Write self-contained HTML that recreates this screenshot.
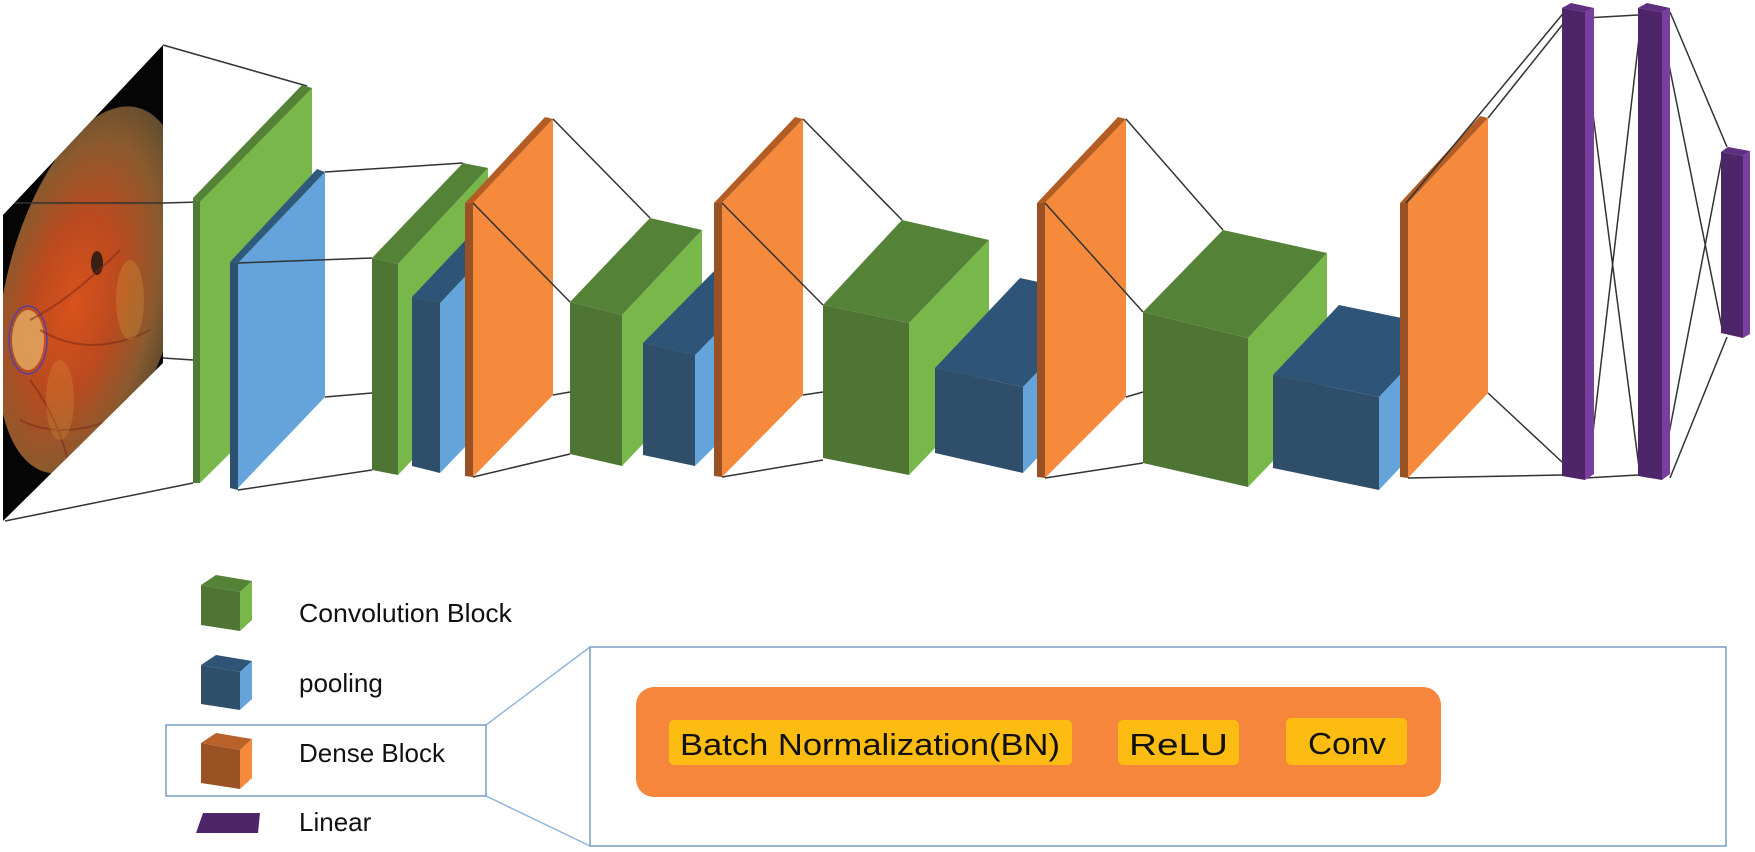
<!DOCTYPE html>
<html><head><meta charset="utf-8"><style>
html,body{margin:0;padding:0;background:#fff;}
svg{display:block;}
text{font-family:"Liberation Sans",Arial,sans-serif;fill:#111;}
</style></head><body>
<svg width="1755" height="852" viewBox="0 0 1755 852" xmlns="http://www.w3.org/2000/svg">
<defs>
<radialGradient id="fg" cx="0.42" cy="0.55" r="0.6">
<stop offset="0" stop-color="#d9521c"/>
<stop offset="0.4" stop-color="#bb4a1e"/>
<stop offset="0.75" stop-color="#8a5a2e"/>
<stop offset="1" stop-color="#5a4a30"/>
</radialGradient>
<clipPath id="pc"><polygon points="3,215 163,45 163,363 3,521"/></clipPath>
</defs>
<g stroke="#333" stroke-width="1.5" fill="none">
<line x1="163" y1="45" x2="307" y2="86"/>
<line x1="163" y1="203" x2="200" y2="202"/>
<line x1="163" y1="358" x2="193" y2="360"/>
<line x1="5" y1="521" x2="193" y2="483"/>
</g>
<polygon points="3,215 163,45 163,363 3,521" fill="#050505"/>
<g clip-path="url(#pc)">
<ellipse cx="92" cy="290" rx="86" ry="188" fill="url(#fg)" transform="rotate(14 92 290)"/>
<ellipse cx="28" cy="340" rx="16" ry="30" fill="#e0a860" opacity="0.85"/>
<ellipse cx="28" cy="340" rx="19" ry="34" fill="none" stroke="#5a3fa0" stroke-width="1.5"/>
<ellipse cx="97" cy="263" rx="6" ry="12" fill="#3a2014"/>
<path d="M30,380 Q60,420 70,470 M40,330 Q90,360 150,330 M30,320 Q70,300 120,250 M20,420 Q60,440 110,420" stroke="#7a2a18" stroke-width="2" fill="none" opacity="0.55"/>
<ellipse cx="60" cy="400" rx="14" ry="40" fill="#e0a040" opacity="0.25"/>
<ellipse cx="130" cy="300" rx="14" ry="40" fill="#e0b040" opacity="0.25"/>
</g>
<line x1="3" y1="203" x2="163" y2="203" stroke="#333" stroke-width="1.5" clip-path="url(#pc)"/>

<!-- green1 -->
<polygon points="200,202 310,88 312,88 312,372 200,483" fill="#78b84a"/>
<polygon points="193,198 302,85 312,88 200,202" fill="#548237"/>
<polygon points="193,198 200,202 200,483 193,483" fill="#4f7a33"/>
<!-- blue1 -->
<polygon points="238,263 325,172 325,397 238,488" fill="#64a4da"/>
<polygon points="230,262 317,169 325,172 238,263" fill="#2f5a7e"/>
<polygon points="230,262 238,263 238,490 230,488" fill="#2e5070"/>
<g stroke="#333" stroke-width="1.5">
<line x1="325" y1="172" x2="463" y2="163"/>
<line x1="238" y1="263" x2="372" y2="258"/>
<line x1="325" y1="397" x2="372" y2="393"/>
<line x1="238" y1="490" x2="372" y2="470"/>
</g>
<!-- green2 -->
<polygon points="398,264 488,168 488,380 398,475" fill="#78b84a"/>
<polygon points="372,258 463,163 488,168 398,264" fill="#548237"/>
<polygon points="372,258 398,264 398,475 372,470" fill="#4f7535"/>
<!-- blue1b -->
<polygon points="440,303 520,218 520,390 440,473" fill="#64a4da"/>
<polygon points="412,297 492,212 520,218 440,303" fill="#2e5577"/>
<polygon points="412,297 440,303 440,473 412,466" fill="#2f4e6a"/>
<!-- orange1 -->
<polygon points="473,203 553,119 553,395 473,477" fill="#f58a3c"/>
<polygon points="465,203 545,117 553,119 473,203" fill="#b35c23"/>
<polygon points="465,203 473,203 473,477 465,476" fill="#9a5224"/>
<g stroke="#333" stroke-width="1.5">
<line x1="553" y1="119" x2="650" y2="218"/>
<line x1="473" y1="203" x2="570" y2="302"/>
<line x1="553" y1="395" x2="570" y2="392"/>
<line x1="473" y1="477" x2="570" y2="454"/>
</g>
<!-- green3 -->
<polygon points="622,315 702,230 702,382 622,466" fill="#78b84a"/>
<polygon points="570,302 650,218 702,230 622,315" fill="#548237"/>
<polygon points="570,302 622,315 622,466 570,454" fill="#4f7535"/>
<!-- blue2 -->
<polygon points="695,355 782,267 782,380 695,466" fill="#64a4da"/>
<polygon points="643,343 730,255 782,267 695,355" fill="#2e5577"/>
<polygon points="643,343 695,355 695,466 643,455" fill="#2f4e6a"/>
<!-- orange2 -->
<polygon points="722,203 803,119 803,395 722,477" fill="#f58a3c"/>
<polygon points="714,203 795,117 803,119 722,203" fill="#b35c23"/>
<polygon points="714,203 722,203 722,477 714,476" fill="#9a5224"/>
<g stroke="#333" stroke-width="1.5">
<line x1="803" y1="119" x2="902" y2="220"/>
<line x1="722" y1="203" x2="823" y2="305"/>
<line x1="803" y1="395" x2="823" y2="392"/>
<line x1="722" y1="477" x2="823" y2="460"/>
</g>
<!-- green4 -->
<polygon points="909,323 989,240 989,392 909,475" fill="#78b84a"/>
<polygon points="823,305 902,220 989,240 909,323" fill="#548237"/>
<polygon points="823,305 909,323 909,475 823,458" fill="#4f7535"/>
<!-- blue3 -->
<polygon points="1023,387 1108,297 1108,383 1023,473" fill="#64a4da"/>
<polygon points="935,368 1020,278 1108,297 1023,387" fill="#2e5577"/>
<polygon points="935,368 1023,387 1023,473 935,453" fill="#2f4e6a"/>
<!-- orange3 -->
<polygon points="1045,203 1126,119 1126,397 1045,478" fill="#f58a3c"/>
<polygon points="1037,203 1118,117 1126,119 1045,203" fill="#b35c23"/>
<polygon points="1037,203 1045,203 1045,478 1037,477" fill="#9a5224"/>
<g stroke="#333" stroke-width="1.5">
<line x1="1126" y1="119" x2="1223" y2="230"/>
<line x1="1045" y1="203" x2="1143" y2="312"/>
<line x1="1126" y1="397" x2="1143" y2="392"/>
<line x1="1045" y1="478" x2="1143" y2="463"/>
</g>
<!-- green5 -->
<polygon points="1248,338 1327,253 1327,405 1248,487" fill="#78b84a"/>
<polygon points="1143,312 1223,230 1327,253 1248,338" fill="#548237"/>
<polygon points="1143,312 1248,338 1248,487 1143,463" fill="#4f7535"/>
<!-- blue4 -->
<polygon points="1379,397 1445,327 1445,420 1379,490" fill="#64a4da"/>
<polygon points="1273,375 1339,305 1445,327 1379,397" fill="#2e5577"/>
<polygon points="1273,375 1379,397 1379,490 1273,468" fill="#2f4e6a"/>
<!-- orange4 -->
<polygon points="1408,203 1488,118 1488,393 1408,478" fill="#f58a3c"/>
<polygon points="1400,203 1480,116 1488,118 1408,203" fill="#b35c23"/>
<polygon points="1400,203 1408,203 1408,478 1400,477" fill="#9a5224"/>
<g stroke="#333" stroke-width="1.5">
<line x1="1406" y1="203" x2="1566" y2="10"/>
<line x1="1488" y1="118" x2="1571" y2="14"/>
<line x1="1488" y1="393" x2="1562" y2="462"/>
<line x1="1408" y1="478" x2="1562" y2="475"/>
<line x1="1585" y1="18" x2="1638" y2="15"/>
<line x1="1585" y1="478" x2="1638" y2="475"/>
<line x1="1582" y1="30" x2="1640" y2="475"/>
<line x1="1588" y1="475" x2="1640" y2="30"/>
<line x1="1670" y1="12" x2="1727" y2="147"/>
<line x1="1670" y1="478" x2="1727" y2="337"/>
<line x1="1662" y1="30" x2="1723" y2="333"/>
<line x1="1662" y1="470" x2="1723" y2="152"/>
</g>
<!-- purple -->
<polygon points="1562,8 1585,12 1585,480 1562,476" fill="#4e2569"/>
<polygon points="1585,12 1594,8 1594,474 1585,480" fill="#7a3f9e"/>
<polygon points="1562,8 1571,3 1594,8 1585,12" fill="#5e2f80"/>
<polygon points="1638,8 1662,12 1662,480 1638,476" fill="#4e2569"/>
<polygon points="1662,12 1670,8 1670,474 1662,480" fill="#7a3f9e"/>
<polygon points="1638,8 1647,3 1670,8 1662,12" fill="#5e2f80"/>
<polygon points="1721,152 1743,156 1743,338 1721,333" fill="#4e2569"/>
<polygon points="1743,156 1750,151 1750,334 1743,338" fill="#7a3f9e"/>
<polygon points="1721,152 1728,147 1750,151 1743,156" fill="#5e2f80"/>

<!-- legend -->
<g>
<polygon points="201,585 240,592 240,631 201,625" fill="#4f7535"/>
<polygon points="201,585 216,575 252,581 240,592" fill="#548237"/>
<polygon points="240,592 252,581 252,620 240,631" fill="#78b84a"/>
<polygon points="201,665 240,672 240,710 201,704" fill="#2f4e6a"/>
<polygon points="201,665 216,655 252,661 240,672" fill="#2e5577"/>
<polygon points="240,672 252,661 252,699 240,710" fill="#64a4da"/>
<polygon points="201,743 240,750 240,789 201,783" fill="#9a5224"/>
<polygon points="201,743 216,733 252,739 240,750" fill="#b8622a"/>
<polygon points="240,750 252,739 252,778 240,789" fill="#f58a3c"/>
<polygon points="203,813 260,813 258,833 196,833" fill="#4e2569"/>
</g>
<text x="299" y="622" font-size="26" textLength="213" lengthAdjust="spacingAndGlyphs">Convolution Block</text>
<text x="299" y="692" font-size="26">pooling</text>
<text x="299" y="762" font-size="26">Dense Block</text>
<text x="299" y="831" font-size="26">Linear</text>
<rect x="166" y="725" width="320" height="71" fill="none" stroke="#7a9cc4" stroke-width="1.5"/>
<line x1="486" y1="725" x2="590" y2="647" stroke="#8fb4dc" stroke-width="1.5"/>
<line x1="486" y1="796" x2="590" y2="846" stroke="#8fb4dc" stroke-width="1.5"/>
<rect x="590" y="647" width="1136" height="199" fill="none" stroke="#7a9cc4" stroke-width="1.5"/>
<rect x="636" y="687" width="805" height="110" rx="18" fill="#f5863c"/>
<rect x="669" y="720" width="403" height="45" rx="5" fill="#fdbc12"/>
<rect x="1118" y="720" width="121" height="45" rx="5" fill="#fdbc12"/>
<rect x="1286" y="718" width="121" height="47" rx="5" fill="#fdbc12"/>
<text x="680" y="755" font-size="31" textLength="380" lengthAdjust="spacingAndGlyphs">Batch Normalization(BN)</text>
<text x="1129" y="755" font-size="31" textLength="99" lengthAdjust="spacingAndGlyphs">ReLU</text>
<text x="1308" y="754" font-size="31" textLength="78" lengthAdjust="spacingAndGlyphs">Conv</text>
</svg>
</body></html>
